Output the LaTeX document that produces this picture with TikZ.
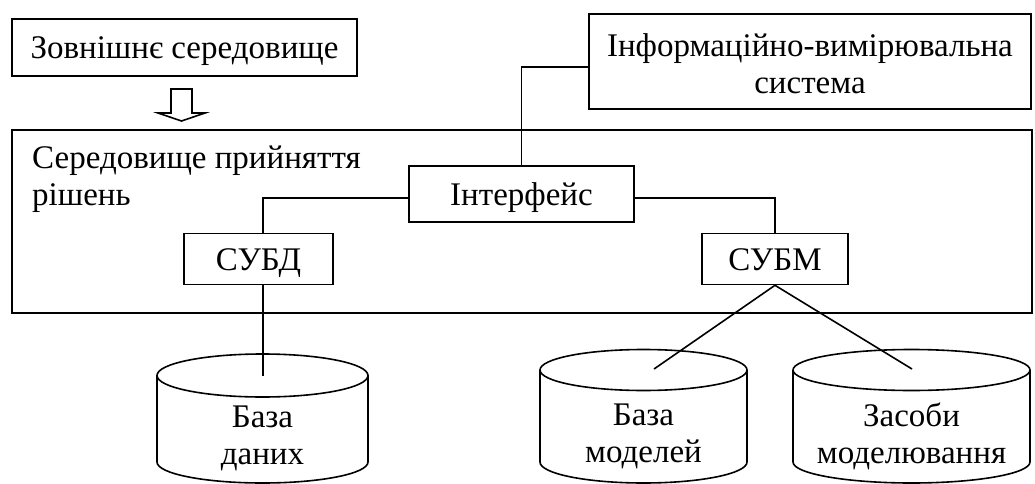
\documentclass[tikz,border=0pt]{standalone}
\usepackage{fontspec}
\setmainfont{Liberation Serif}
\begin{document}
\begin{tikzpicture}[x=1pt,y=-1pt,
  lw/.style={line width=1.6pt},
  box/.style={draw, lw, inner sep=0pt, font=\fontsize{33}{37}\selectfont, align=center},
  onebox/.style={box, text height=22pt, text depth=0pt},
  txt/.style={inner sep=0pt, font=\fontsize{33}{37}\selectfont, align=center},
  conn/.style={lw}]
\useasboundingbox (0,0) rectangle (1035,484);
% outer environment
\node[draw, lw, inner sep=0pt, minimum width=1020pt, minimum height=183pt] (env) at (522,221.5) {};
\node[txt, align=left, anchor=base west] (envlbl) at (32,205) {Середовище прийняття\\рішень};
% external environment
\node[onebox, minimum width=345pt, minimum height=57pt] (ext) at (184.5,47.5) {Зовнішнє середовище};
\draw[lw] (171,89) -- (192,89) -- (192,113) -- (205,113) -- (181.5,121) -- (158,113) -- (171,113) -- cycle;
% information system
\node[box, minimum width=442pt, minimum height=95pt] (ivs) at (810,61.5) {};
\node[txt] (ivstxt) at (810,63.5) {Інформаційно-вимірювальна\\система};
% interface and managers
\node[onebox, minimum width=225pt, minimum height=56pt] (int) at (521.5,194) {Інтерфейс};
\node[onebox, minimum width=149pt, minimum height=51pt] (subd) at (258.5,259) {СУБД};
\node[onebox, minimum width=146pt, minimum height=51pt] (subm) at (775,259) {СУБМ};
% cylinders
\draw[lw] (262.5,375.5) ellipse[x radius=105.5pt, y radius=21.5pt];
\draw[lw] (157,375.5) -- (157,462) arc[start angle=180, end angle=360, x radius=105.5pt, y radius=21pt] -- (368,375.5);
\coordinate (c1) at (263,375.5);
\node[txt] (bd) at (262.5,438) {База\\даних};
\draw[lw] (643.5,370) ellipse[x radius=103.5pt, y radius=20.5pt];
\draw[lw] (540,370) -- (540,462) arc[start angle=180, end angle=360, x radius=103.5pt, y radius=21pt] -- (747,370);
\coordinate (c2) at (654,369);
\node[txt] (bm) at (643.5,436) {База\\моделей};
\draw[lw] (911.5,370) ellipse[x radius=118.5pt, y radius=20.5pt];
\draw[lw] (793,370) -- (793,462) arc[start angle=180, end angle=360, x radius=118.5pt, y radius=21pt] -- (1030,370);
\coordinate (c3) at (912,369);
\node[txt] (zm) at (911.5,436) {Засоби\\моделювання};
% connectors
\draw[conn] ([yshift=-5.5pt]ivs.west) -| (int.north);
\draw[conn] ([yshift=-4pt]int.west) -| ([xshift=4.5pt]subd.north);
\draw[conn] ([yshift=-4pt]int.east) -| (subm.north);
\draw[conn] ([xshift=4.5pt]subd.south) -- (c1);
\draw[conn] (subm.south) -- (c2);
\draw[conn] (subm.south) -- (c3);
\end{tikzpicture}
\end{document}
